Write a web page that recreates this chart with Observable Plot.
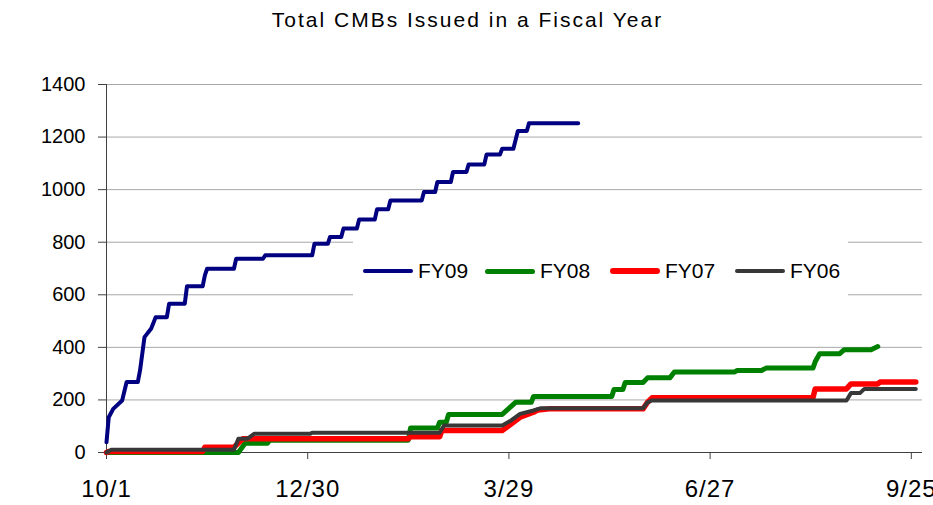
<!DOCTYPE html>
<html>
<head>
<meta charset="utf-8">
<script src="https://cdn.jsdelivr.net/npm/d3@7"></script>
<script src="https://cdn.jsdelivr.net/npm/@observablehq/plot@0.6"></script>
<style>
  body { margin: 0; background: #fff; font-family: "Liberation Sans", Arial, sans-serif; }
  #wrap { position: relative; width: 933px; height: 505px; overflow: hidden; }
  #title { height: 40px; line-height: 40px; text-align: center; font-size: 21px; letter-spacing: 2px; color: #000; padding-left: 2px; }
  #legend { position: absolute; left: 353px; top: 236px; width: 495px; height: 66px; background: #fff; }
  .lg-line { position: absolute; width: 50px; border-radius: 3px; }
  .lg-text { position: absolute; font-size: 21px; line-height: 24px; color: #000; white-space: nowrap; }
  g[aria-label="x-axis tick label"] text { letter-spacing: 1px; }
</style>
</head>
<body>
<div id="wrap">
  <div id="title"></div>
  <div id="chart"></div>
  <div id="legend"></div>
</div>
<script>
// ---- data (day of fiscal year counted from 10/1, cumulative CMBs issued) ----
const titleText = "Total CMBs Issued in a Fiscal Year";
const seriesNames = ["FY09", "FY08", "FY07", "FY06"];
const seriesColors = ["#000080", "#008000", "#ff0000", "#383838"];
const seriesWidths = [4, 5, 5.5, 4];

const fy09Days = [0,1,3,7,9,14,15,17,20,22,27,28,35,36,43,44,45,57,58,70,71,92,93,99,100,105,106,112,113,120,121,126,127,141,142,147,148,154,155,161,162,169,170,176,177,182,184,188,189,211];
const fy09Vals = [39,134,166,198,268,268,312,439,472,515,515,566,566,632,632,674,699,699,737,737,750,750,794,794,820,820,852,852,886,886,925,925,959,959,991,991,1029,1029,1067,1067,1096,1096,1134,1134,1156,1156,1223,1223,1253,1253];

const fy08Days = [0,59,62,72,73,135,136,148,149,152,153,177,179,183,190,191,226,227,231,232,240,242,252,254,281,282,293,295,316,317,319,328,330,342,345];
const fy08Vals = [0,0,35,35,47,47,93,93,115,115,145,145,160,191,191,213,213,240,240,266,266,284,284,306,306,312,312,321,321,345,376,376,391,391,403];

const fy07Days = [0,1,43,44,57,61,135,136,149,150,177,179,182,185,191,193,198,240,242,244,316,317,331,333,345,346,362];
const fy07Vals = [0,4,4,20,20,52,52,60,60,84,84,96,115,134,153,162,166,166,191,208,208,242,242,261,261,268,268];

const fy06Days = [0,2,57,59,63,66,91,92,149,151,177,181,185,191,194,240,242,244,331,333,337,339,362];
const fy06Vals = [0,10,10,52,52,71,71,75,75,103,103,122,147,160,168,168,191,198,198,226,226,242,242];

const xTickDays = [0, 90, 180, 270, 360];
const xTickLabels = ["10/1", "12/30", "3/29", "6/27", "9/25"];
const yTicks = [0, 200, 400, 600, 800, 1000, 1200, 1400];

// ---- build table ----
const seriesData = [
  [fy09Days, fy09Vals],
  [fy08Days, fy08Vals],
  [fy07Days, fy07Vals],
  [fy06Days, fy06Vals]
];
const rows = [];
seriesData.forEach(([days, vals], i) => {
  days.forEach((d, j) => rows.push({series: seriesNames[i], day: d, count: vals[j]}));
});

document.getElementById("title").textContent = titleText;

const lineMarks = seriesNames.map((name, i) =>
  Plot.line(rows.filter(r => r.series === name), {
    x: "day", y: "count",
    stroke: seriesColors[i], strokeWidth: seriesWidths[i],
    strokeLinejoin: "round", strokeLinecap: "round"
  })
);

const chart = Plot.plot({
  width: 933,
  height: 465,
  marginTop: 44,
  marginBottom: 53,
  marginLeft: 106,
  marginRight: 11,
  x: {domain: [0, 365]},
  y: {domain: [0, 1400]},
  style: {fontFamily: "'Liberation Sans', Arial, sans-serif", fontSize: "20px", color: "#000", background: "#fff", overflow: "visible"},
  marks: [
    Plot.gridY(yTicks.filter(d => d > 0), {stroke: "#a8a8a8", strokeOpacity: 1, strokeWidth: 1}),
    Plot.axisY(yTicks, {tickSize: 8, tickPadding: 13, fontSize: 20, label: null, stroke: "#404040",
      tickFormat: d => String(d)}),
    Plot.axisX(xTickDays, {tickSize: 7, tickPadding: 20, fontSize: 24, label: null, stroke: "#404040",
      tickFormat: d => xTickLabels[xTickDays.indexOf(d)]}),
    Plot.ruleY([0], {stroke: "#404040", strokeWidth: 1}),
    Plot.ruleX([0], {stroke: "#404040", strokeWidth: 1}),
    ...lineMarks
  ]
});
document.getElementById("chart").appendChild(chart);

// ---- legend (inside plot area) ----
const legend = document.getElementById("legend");
const lineLeft = [10, 132, 257, 382];
seriesNames.forEach((name, i) => {
  const ln = document.createElement("div");
  ln.className = "lg-line";
  ln.style.left = lineLeft[i] + "px";
  ln.style.height = seriesWidths[i] + "px";
  ln.style.top = (35 - seriesWidths[i] / 2) + "px";
  ln.style.background = seriesColors[i];
  legend.appendChild(ln);
  const tx = document.createElement("div");
  tx.className = "lg-text";
  tx.style.left = (lineLeft[i] + 55) + "px";
  tx.style.top = (35 - 12) + "px";
  tx.textContent = name;
  legend.appendChild(tx);
});
</script>
</body>
</html>
